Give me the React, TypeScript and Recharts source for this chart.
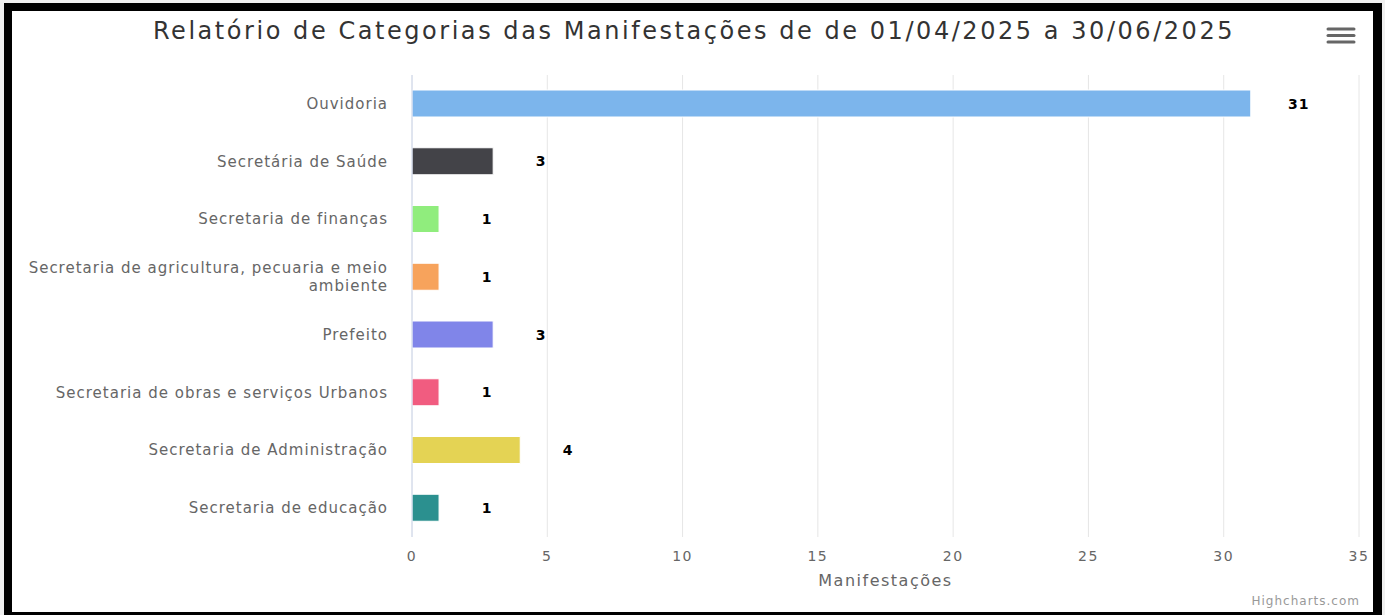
import React from 'react';
import { BarChart, Bar, XAxis, YAxis, CartesianGrid, Cell, LabelList } from 'recharts';

const categories = [
  'Ouvidoria',
  'Secretária de Saúde',
  'Secretaria de finanças',
  'Secretaria de agricultura, pecuaria e meio ambiente',
  'Prefeito',
  'Secretaria de obras e serviços Urbanos',
  'Secretaria de Administração',
  'Secretaria de educação',
];
const values = [31, 3, 1, 1, 3, 1, 4, 1];
const colors = ['#7cb5ec', '#434348', '#90ed7d', '#f7a35c', '#8085e9', '#f15c80', '#e4d354', '#2b908f'];
const xTicks = [0, 5, 10, 15, 20, 25, 30, 35];
const titleText = 'Relatório de Categorias das Manifestações de de 01/04/2025 a 30/06/2025';
const axisTitle = 'Manifestações';
const creditText = 'Highcharts.com';

const data = categories.map((name, i) => ({ name, value: values[i] }));

const FONT = '"DejaVu Sans", Verdana, sans-serif';
const LABEL_SIZE = 15;
const LABEL_SPACING = 1;
const WRAP_WIDTH = 395;

let ctx: CanvasRenderingContext2D | null = null;
const measure = (s: string) => {
  if (!ctx) {
    const c = document.createElement('canvas');
    ctx = c.getContext('2d');
  }
  if (!ctx) return s.length * 9;
  ctx.font = `${LABEL_SIZE}px "DejaVu Sans"`;
  return ctx.measureText(s).width + s.length * LABEL_SPACING;
};

const wrapWords = (s: string) => {
  const words = s.split(' ');
  const lines: string[] = [];
  let cur = '';
  words.forEach((w) => {
    const next = cur ? cur + ' ' + w : w;
    if (cur && measure(next) > WRAP_WIDTH) {
      lines.push(cur);
      cur = w;
    } else {
      cur = next;
    }
  });
  if (cur) lines.push(cur);
  return lines;
};

const CategoryTick = (props: any) => {
  const { x, y, payload } = props;
  const lines = wrapWords(String(payload.value));
  const lh = 18;
  return (
    <text
      x={x}
      y={y}
      textAnchor="end"
      fontSize={LABEL_SIZE}
      fontFamily={FONT}
      letterSpacing={LABEL_SPACING}
      fill="#666666"
    >
      {lines.map((l, i) => (
        <tspan key={i} x={x} y={y + (i - (lines.length - 1) / 2) * lh} dominantBaseline="central">
          {l}
        </tspan>
      ))}
    </text>
  );
};

const ValueLabel = (props: any) => {
  const { x, y, width, height, value } = props;
  return (
    <text
      x={x + width + 48}
      y={y + height / 2}
      textAnchor="middle"
      dominantBaseline="central"
      fontSize={14}
      fontWeight="bold"
      fontFamily={FONT}
      letterSpacing={1}
      fill="#000000"
    >
      {value}
    </text>
  );
};

export default function App() {
  return (
    <div
      style={{
        position: 'fixed',
        left: 0,
        top: 0,
        width: 1385,
        height: 615,
        background: '#f0f0f0',
        overflow: 'hidden',
        fontFamily: FONT,
      }}
    >
      <div style={{ position: 'absolute', left: 4, top: 3, width: 1378, height: 620, background: '#000' }} />
      <div style={{ position: 'absolute', left: 12, top: 11, width: 1361, height: 601, background: '#fff' }} />
      <div
        style={{
          position: 'absolute',
          left: 0,
          top: 19,
          width: 1388,
          textAlign: 'center',
          fontSize: 24,
          lineHeight: '24px',
          letterSpacing: 2.55,
          color: '#333333',
          whiteSpace: 'nowrap',
        }}
      >
        {titleText}
      </div>
      <svg style={{ position: 'absolute', left: 0, top: 0 }} width={1385} height={615}>
        <line x1={1328} x2={1354} y1={29} y2={29} stroke="#666" strokeWidth={3} strokeLinecap="round" />
        <line x1={1328} x2={1354} y1={35.5} y2={35.5} stroke="#666" strokeWidth={3} strokeLinecap="round" />
        <line x1={1328} x2={1354} y1={42} y2={42} stroke="#666" strokeWidth={3} strokeLinecap="round" />
      </svg>
      <div style={{ position: 'absolute', left: 0, top: 0 }}>
        <BarChart
          width={1385}
          height={615}
          layout="vertical"
          data={data}
          margin={{ top: 75, right: 26, bottom: 23, left: 0 }}
          barCategoryGap={0}
        >
          <CartesianGrid horizontal={false} stroke="#e6e6e6" />
          <XAxis
            type="number"
            domain={[0, 35]}
            ticks={xTicks}
            axisLine={false}
            tickLine={false}
            tickSize={0}
            tickMargin={14}
            height={55}
            tick={{ fontSize: 14, fill: '#666666', fontFamily: FONT, letterSpacing: 1.5 }}
            label={{
              value: axisTitle,
              position: 'insideBottom',
              offset: 6,
              fontSize: 16,
              fill: '#666666',
              fontFamily: FONT,
              letterSpacing: 1.5,
            }}
          />
          <YAxis
            type="category"
            dataKey="name"
            width={412}
            axisLine={{ stroke: '#ccd6eb' }}
            tickLine={false}
            tickSize={0}
            tickMargin={24}
            tick={<CategoryTick />}
            interval={0}
          />
          <Bar dataKey="value" barSize={27} isAnimationActive={false} stroke="#ffffff" strokeWidth={1}>
            {data.map((d, i) => (
              <Cell key={d.name} fill={colors[i]} />
            ))}
            <LabelList dataKey="value" content={<ValueLabel />} />
          </Bar>
        </BarChart>
      </div>
      <div
        style={{
          position: 'absolute',
          right: 1385 - 1360,
          top: 594,
          fontSize: 12,
          lineHeight: '14px',
          letterSpacing: 1,
          color: '#999999',
        }}
      >
        {creditText}
      </div>
    </div>
  );
}
